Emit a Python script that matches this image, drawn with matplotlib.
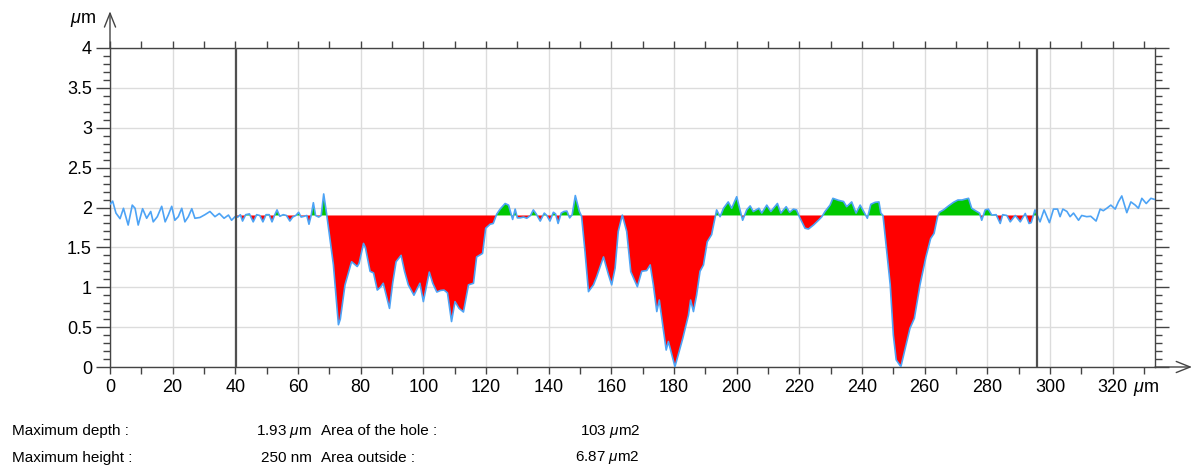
import numpy as np
import matplotlib
matplotlib.use('Agg')
import matplotlib.pyplot as plt
from matplotlib.ticker import MultipleLocator, FixedLocator, FixedFormatter

plt.rcParams['font.family'] = ['Liberation Sans', 'DejaVu Sans']
plt.rcParams['mathtext.fontset'] = 'custom'
plt.rcParams['mathtext.rm'] = 'Liberation Sans'
plt.rcParams['mathtext.it'] = 'Liberation Sans:italic'

# ---------------- data ----------------
profile_x = [
    0.0, 0.85, 1.9, 3.2, 4.3, 5.8, 7.1, 8.0, 9.0, 10.4, 11.7, 13.0, 13.8, 15.1, 16.5, 17.6,
    18.6, 19.7, 20.7, 21.8, 22.9, 23.9, 25.0, 26.1, 27.1, 28.7, 30.3, 31.9, 33.5, 34.9, 36.4,
    37.8, 38.8, 39.9,
    40.8, 41.6, 42.3, 43.3, 44.5, 45.7, 46.8, 47.8, 48.8, 49.8, 50.8, 51.7, 52.6, 53.3, 54.2,
    55.3, 56.3, 57.4, 58.3, 59.3, 60.2, 61.0, 62.0, 62.8, 63.5, 64.2, 64.9, 65.6, 66.6, 67.4,
    68.2, 69.2,
    71.3, 72.9, 73.5, 75.0, 77.1, 78.9, 79.5, 80.9, 81.5, 83.0, 84.1, 85.3, 86.3, 87.2, 89.2,
    90.2, 91.3, 92.9, 94.0, 95.2, 97.0, 98.9, 100.0, 101.9, 103.0, 104.3, 105.5, 106.6, 107.7,
    109.0, 110.1, 111.4, 112.8, 114.4, 116.0, 117.0, 118.9, 119.9, 121.3, 122.3, 123.4, 124.5,
    126.1, 127.2, 128.5, 129.3, 130.0, 130.9,
    132.0, 133.0, 134.2, 135.1, 136.0, 137.3, 138.6, 139.4, 140.4, 141.5, 142.2, 143.0, 144.0,
    144.9, 145.8, 146.7, 147.5, 148.5, 149.8, 150.5,
    151.6, 152.7, 154.3, 155.3, 157.5, 159.1, 160.1, 161.2, 162.2, 163.5, 164.9, 166.2, 168.3,
    169.7, 171.3, 172.4, 173.4, 174.5, 175.3, 177.5, 178.2, 180.3, 182.8, 184.6, 185.3, 186.2,
    187.2, 188.3, 189.4, 190.6, 192.0, 193.6, 194.7, 195.8, 197.3, 198.4, 200.0, 201.9, 203.2,
    204.3, 205.3, 207.1, 208.0, 209.6, 210.9, 213.0, 214.1, 215.8, 216.9, 218.1, 219.1, 220.0,
    221.8, 222.9, 224.5, 226.1, 227.2, 228.2, 229.8, 230.7, 232.5, 234.1, 235.1, 236.7, 238.1,
    239.4, 240.4, 241.7, 242.8, 244.2, 245.4, 246.0, 246.7, 247.9, 249.0, 250.0, 250.9, 252.4,
    253.8, 255.3, 256.7, 258.5, 260.4, 261.9, 263.0, 264.1, 264.7, 266.0, 267.6, 269.2, 270.6,
    271.9, 272.9, 274.0, 275.0, 276.4, 277.5, 278.2, 279.3, 280.3, 281.4, 282.8, 284.1, 284.9,
    286.2, 287.3, 288.9, 290.5, 292.1, 293.3, 294.0, 295.2, 296.8, 298.1, 299.8, 301.1, 302.4,
    303.2, 304.1, 305.4, 306.4, 307.5, 309.1, 310.1, 311.7, 313.0, 314.7, 316.0, 317.0, 318.1,
    319.4, 320.8, 321.8, 322.9, 324.5, 325.8, 327.2, 328.2, 329.3, 330.7, 332.2, 333.5,
]
profile_y = [
    2.04, 2.08, 1.93, 1.86, 1.99, 1.78, 2.03, 1.99, 1.78, 1.985, 1.865, 1.95, 1.82, 1.885, 2.015, 1.82,
    1.905, 2.015, 1.84, 1.885, 1.99, 1.82, 1.885, 1.985, 1.865, 1.875, 1.91, 1.95, 1.885, 1.925, 1.865,
    1.905, 1.84, 1.885,
    1.88, 1.91, 1.83, 1.91, 1.92, 1.82, 1.91, 1.90, 1.82, 1.91, 1.91, 1.82, 1.91, 1.97, 1.89,
    1.91, 1.90, 1.83, 1.88, 1.90, 1.94, 1.88, 1.89, 1.90, 1.79, 1.90, 2.06, 1.90, 1.88, 1.90,
    2.17, 1.90,
    1.28, 0.53, 0.60, 1.03, 1.32, 1.26, 1.30, 1.55, 1.50, 1.20, 1.18, 0.965, 1.00, 1.05, 0.735,
    1.05, 1.32, 1.40, 1.20, 1.03, 0.90, 1.05, 0.82, 1.19, 1.05, 0.94, 0.96, 0.965, 0.93,
    0.57, 0.82, 0.735, 0.69, 1.03, 1.05, 1.38, 1.425, 1.74, 1.79, 1.80, 1.915, 1.98,
    2.05, 2.03, 1.85, 1.98, 1.87, 1.87,
    1.88, 1.865, 1.90, 1.97, 1.92, 1.83, 1.93, 1.90, 1.83, 1.94, 1.92, 1.80, 1.93,
    1.95, 1.955, 1.87, 1.91, 2.15, 1.95, 1.89,
    1.445, 0.945, 1.03, 1.13, 1.38, 1.155, 1.03, 1.24, 1.70, 1.905, 1.70, 1.195, 1.007,
    1.20, 1.21, 1.28, 1.03, 0.695, 0.84, 0.213, 0.32, 0.004, 0.36, 0.65, 0.84, 0.695,
    0.90, 1.20, 1.28, 1.57, 1.66, 1.97, 1.885, 1.99, 2.07, 1.99, 2.135, 1.84, 1.97,
    2.02, 1.95, 1.99, 1.93, 2.03, 1.95, 2.05, 1.93, 2.01, 1.94, 1.98, 1.97, 1.885,
    1.74, 1.73, 1.78, 1.84, 1.885, 1.95, 2.03, 2.115, 2.09, 2.075, 2.01, 2.07, 1.93,
    2.03, 1.96, 1.865, 2.04, 2.065, 2.07, 1.93, 1.90, 1.445, 1.03, 0.40, 0.09, 0.004,
    0.235, 0.485, 0.61, 1.03, 1.38, 1.61, 1.675, 1.885, 1.94, 1.97, 2.02, 2.065, 2.094,
    2.094, 2.105, 2.115, 1.99, 1.955, 1.93, 1.84, 1.97, 1.98, 1.905, 1.91, 1.80, 1.91,
    1.90, 1.82, 1.90, 1.82, 1.925, 1.80, 1.81, 1.97, 1.82, 1.97, 1.81, 1.98, 1.98,
    1.885, 1.98, 1.95, 1.885, 1.93, 1.84, 1.90, 1.885, 1.89, 1.83, 1.98, 1.96, 1.99,
    2.03, 1.98, 2.07, 2.145, 1.935, 2.07, 2.03, 1.99, 2.115, 2.05, 2.115, 2.10,
]
reference_level = 1.9
cursor_positions = [40.2, 295.8]
x_tick_values = [0, 20, 40, 60, 80, 100, 120, 140, 160, 180, 200, 220, 240, 260, 280, 300, 320]
x_tick_labels = ['0', '20', '40', '60', '80', '100', '120', '140', '160', '180', '200',
                 '220', '240', '260', '280', '300', '320']
y_tick_values = [0, 0.5, 1, 1.5, 2, 2.5, 3, 3.5, 4]
y_tick_labels = ['0', '0.5', '1', '1.5', '2', '2.5', '3', '3.5', '4']
stat_names = ['Maximum depth :', 'Maximum height :']
stat_values = [r'1.93 $\mu$m', '250 nm']
area_names = ['Area of the hole :', 'Area outside :']
area_values = [r'103 $\mu$m2', r'6.87 $\mu$m2']

# ---------------- figure ----------------
W, H = 1193, 468
fig = plt.figure(figsize=(W / 100, H / 100), dpi=100)
ax = fig.add_axes([110 / W, 1 - 367 / H, 1045 / W, 319 / H])

px = np.array(profile_x)
py = np.array(profile_y)
c0, c1 = cursor_positions
inside = (px > c0) & (px < c1)
fx = np.concatenate([[c0], px[inside], [c1]])
fy = np.interp(fx, px, py)
ax.fill_between(fx, fy, reference_level, where=fy <= reference_level, interpolate=True,
                color='#ff0000', lw=0, zorder=2)
ax.fill_between(fx, fy, reference_level, where=fy >= reference_level, interpolate=True,
                color='#00c800', lw=0, zorder=2)
ax.plot(px, py, color='#4da3f5', lw=1.2, zorder=3)

for c in cursor_positions:
    ax.axvline(c, color='#505050', lw=1.6, zorder=4)

ax.set_xlim(0, 333.5)
ax.set_ylim(0, 4)

ax.xaxis.set_major_locator(FixedLocator(x_tick_values))
ax.xaxis.set_major_formatter(FixedFormatter(x_tick_labels))
ax.xaxis.set_minor_locator(MultipleLocator(10))
ax.yaxis.set_major_locator(FixedLocator(y_tick_values))
ax.yaxis.set_major_formatter(FixedFormatter(y_tick_labels))
ax.yaxis.set_minor_locator(MultipleLocator(0.1))

ax.grid(which='major', color='#dcdcdc', lw=1.0, zorder=0)
ax.set_axisbelow(True)

spine_col = '#444444'
for s in ax.spines.values():
    s.set_color(spine_col)
    s.set_linewidth(1.0)

ax.tick_params(axis='x', which='both', direction='out', top=True, bottom=True,
               length=5, width=1, color=spine_col, labelsize=13, pad=4)
ax.tick_params(axis='y', which='major', direction='out', left=True, right=True,
               length=10, width=1, color=spine_col, labelsize=13, pad=3)
ax.tick_params(axis='y', which='minor', direction='out', left=True, right=True,
               length=5, width=1, color=spine_col)

# axis arrows
ax.annotate('', xy=(0, 1.115), xycoords='axes fraction', xytext=(0, 1.0),
            arrowprops=dict(arrowstyle='->,head_length=1.0,head_width=0.4', lw=1.0,
                            color=spine_col, shrinkA=0, shrinkB=0),
            annotation_clip=False)
ax.annotate('', xy=(1.0354, 0), xycoords='axes fraction', xytext=(1.0, 0),
            arrowprops=dict(arrowstyle='->,head_length=1.0,head_width=0.4', lw=1.0,
                            color=spine_col, shrinkA=0, shrinkB=0),
            annotation_clip=False)

fig.text(96 / W, 1 - 20 / H, r'$\mu$m', ha='right', va='center', fontsize=13)
ax.annotate(r'$\mu$m', xy=(326.5, 0), xycoords='data', xytext=(0, -9),
            textcoords='offset points', ha='left', va='top', fontsize=13,
            annotation_clip=False)

# statistics text
rows_y = [1 - 431 / H, 1 - 458 / H]
for i in range(2):
    fig.text(12 / W, rows_y[i], stat_names[i], ha='left', va='center', fontsize=11)
    fig.text(312 / W, rows_y[i], stat_values[i], ha='right', va='center', fontsize=11)
    fig.text(321 / W, rows_y[i], area_names[i], ha='left', va='center', fontsize=11)
    fig.text(640 / W, rows_y[i], area_values[i], ha='right', va='center', fontsize=11)

fig.savefig('out.png', dpi=100)
